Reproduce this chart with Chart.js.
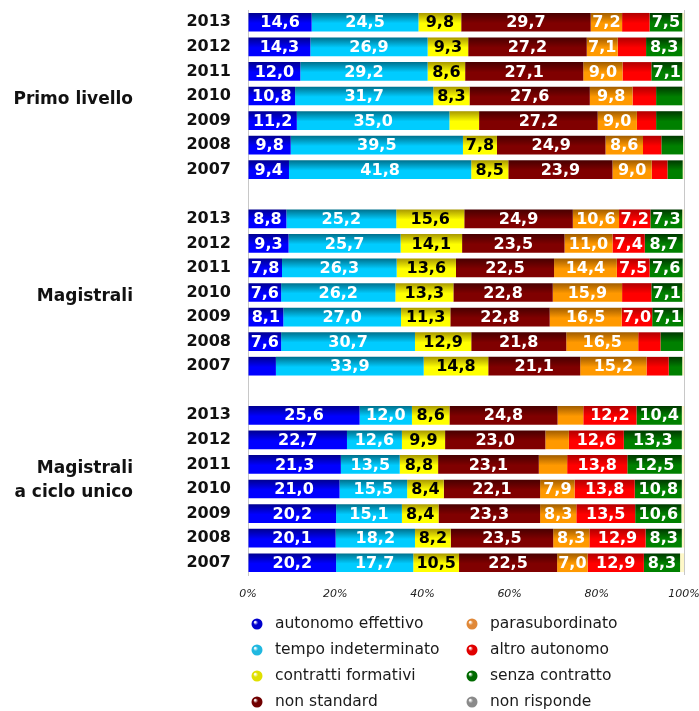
<!DOCTYPE html>
<html>
<head>
<meta charset="utf-8">
<script src="https://cdn.jsdelivr.net/npm/chart.js@4.4.1/dist/chart.umd.min.js"></script>
<style>
body { margin: 0; background: #fff; }
</style>
</head>
<body>
<canvas id="chart" width="699" height="711"></canvas>
<script>
const years = ['2013', '2012', '2011', '2010', '2009', '2008', '2007'];
const groups = [['Primo livello'], ['Magistrali'], ['Magistrali', 'a ciclo unico']];
const xTicks = [0, 20, 40, 60, 80, 100];

// each series: Primo livello (7), Magistrali (7), Magistrali a ciclo unico (7), years 2013 -> 2007
const autonomoEffettivo = [14.6, 14.3, 12.0, 10.8, 11.2, 9.8, 9.4,
  8.8, 9.3, 7.8, 7.6, 8.1, 7.6, 6.4,
  25.6, 22.7, 21.3, 21.0, 20.2, 20.1, 20.2];
const tempoIndeterminato = [24.5, 26.9, 29.2, 31.7, 35.0, 39.5, 41.8,
  25.2, 25.7, 26.3, 26.2, 27.0, 30.7, 33.9,
  12.0, 12.6, 13.5, 15.5, 15.1, 18.2, 17.7];
const contrattiFormativi = [9.8, 9.3, 8.6, 8.3, 6.8, 7.8, 8.5,
  15.6, 14.1, 13.6, 13.3, 11.3, 12.9, 14.8,
  8.6, 9.9, 8.8, 8.4, 8.4, 8.2, 10.5];
const nonStandard = [29.7, 27.2, 27.1, 27.6, 27.2, 24.9, 23.9,
  24.9, 23.5, 22.5, 22.8, 22.8, 21.8, 21.1,
  24.8, 23.0, 23.1, 22.1, 23.3, 23.5, 22.5];
const parasubordinato = [7.2, 7.1, 9.0, 9.8, 9.0, 8.6, 9.0,
  10.6, 11.0, 14.4, 15.9, 16.5, 16.5, 15.2,
  5.9, 5.4, 6.5, 7.9, 8.3, 8.3, 7.0];
const altroAutonomo = [6.3, 6.5, 6.6, 5.4, 4.4, 4.2, 3.6,
  7.2, 7.4, 7.5, 6.7, 7.0, 5.1, 5.1,
  12.2, 12.6, 13.8, 13.8, 13.5, 12.9, 12.9];
const senzaContratto = [7.5, 8.3, 7.1, 6.0, 6.0, 5.0, 3.5,
  7.3, 8.7, 7.6, 7.1, 7.1, 5.2, 3.1,
  10.4, 13.3, 12.5, 10.8, 10.6, 8.3, 8.3];
const nonRisponde = [0.4, 0.4, 0.4, 0.4, 0.4, 0.2, 0.3,
  0.4, 0.3, 0.3, 0.4, 0.2, 0.2, 0.4,
  0.5, 0.5, 0.5, 0.5, 0.6, 0.5, 0.9];

// one empty row between groups
const labels = [];
groups.forEach((g, i) => {
  if (i > 0) labels.push('');
  years.forEach(y => labels.push(y));
});
function withGaps(arr) {
  const out = [];
  groups.forEach((g, i) => {
    if (i > 0) out.push(null);
    out.push(...arr.slice(i * 7, i * 7 + 7));
  });
  return out;
}

function barGradient(top, bottom) {
  return ctx => {
    const chart = ctx.chart;
    if (!chart.chartArea || ctx.type !== 'data') return bottom;
    const ys = chart.scales.y;
    const y = ys.getPixelForValue(ctx.dataIndex);
    const h = ys.height / labels.length * 0.76;
    const g = chart.ctx.createLinearGradient(0, y - h / 2, 0, y + h / 2);
    g.addColorStop(0, top);
    g.addColorStop(0.55, bottom);
    g.addColorStop(1, bottom);
    return g;
  };
}

function series(label, data, top, bottom, dot, labelColor) {
  return {
    label: label,
    data: withGaps(data),
    backgroundColor: top ? barGradient(top, bottom) : bottom,
    borderWidth: 0,
    barPercentage: 0.76,
    categoryPercentage: 1,
    dotColor: dot,
    labelColor: labelColor
  };
}

const fmt = v => v.toFixed(1).replace('.', ',');

const valueLabels = {
  id: 'valueLabels',
  afterDatasetsDraw(chart) {
    const c = chart.ctx;
    c.save();
    c.font = 'bold 16px "DejaVu Sans"';
    c.textAlign = 'center';
    c.textBaseline = 'middle';
    chart.data.datasets.forEach((ds, i) => {
      if (!ds.labelColor) return;
      chart.getDatasetMeta(i).data.forEach((el, j) => {
        const v = ds.data[j];
        if (v == null || v < 7) return;
        const p = el.getProps(['x', 'y', 'base'], true);
        c.fillStyle = ds.labelColor;
        c.fillText(fmt(v), (p.x + p.base) / 2, p.y + 1);
      });
    });
    c.restore();
  }
};

const groupLabels = {
  id: 'groupLabels',
  afterDraw(chart) {
    const c = chart.ctx;
    const ys = chart.scales.y;
    c.save();
    c.font = 'bold 17px "DejaVu Sans"';
    c.fillStyle = '#111';
    c.textAlign = 'right';
    c.textBaseline = 'middle';
    groups.forEach((lines, gi) => {
      const mid = ys.getPixelForValue(gi * 8 + 3);
      lines.forEach((t, li) => {
        c.fillText(t, 133, mid + 4 - (lines.length - 1 - li) * 24);
      });
    });
    c.restore();
  }
};

const dotLegend = {
  id: 'dotLegend',
  afterDraw(chart) {
    const c = chart.ctx;
    c.save();
    c.font = '15.5px "DejaVu Sans"';
    c.textBaseline = 'middle';
    c.textAlign = 'left';
    chart.data.datasets.forEach((ds, i) => {
      const col = Math.floor(i / 4), row = i % 4;
      const x = col === 0 ? 257 : 472;
      const y = 624 + row * 26;
      const g = c.createRadialGradient(x - 2, y - 2, 0.5, x, y, 6);
      g.addColorStop(0, '#ffffff');
      g.addColorStop(0.35, ds.dotColor);
      g.addColorStop(1, ds.dotColor);
      c.fillStyle = g;
      c.beginPath();
      c.arc(x, y, 5.5, 0, Math.PI * 2);
      c.fill();
      c.fillStyle = '#1a1a1a';
      c.fillText(ds.label, x + 18, y);
    });
    c.restore();
  }
};

new Chart(document.getElementById('chart'), {
  type: 'bar',
  data: {
    labels: labels,
    datasets: [
      series('autonomo effettivo', autonomoEffettivo, '#000090', '#0000ff', '#0000cc', '#fff'),
      series('tempo indeterminato', tempoIndeterminato, '#00708c', '#00ccff', '#20b8e0', '#fff'),
      series('contratti formativi', contrattiFormativi, '#a89800', '#ffff00', '#e0e000', '#000'),
      series('non standard', nonStandard, '#480000', '#800000', '#700000', '#fff'),
      series('parasubordinato', parasubordinato, '#a05c00', '#ff9900', '#e08838', '#fff'),
      series('altro autonomo', altroAutonomo, '#b00000', '#ff0000', '#e00000', '#fff'),
      series('senza contratto', senzaContratto, '#003800', '#008000', '#006a00', '#fff'),
      series('non risponde', nonRisponde, null, '#fff8c8', '#8a8a8a', null)
    ]
  },
  options: {
    indexAxis: 'y',
    responsive: false,
    animation: false,
    events: [],
    layout: { padding: { top: 10, right: 15, bottom: 108, left: 0 } },
    plugins: {
      legend: { display: false },
      tooltip: { enabled: false }
    },
    scales: {
      x: {
        stacked: true,
        min: 0,
        max: 100,
        afterFit: s => { s.height = 28; s.paddingLeft = 0; s.paddingRight = 0; },
        afterBuildTicks: s => { s.ticks = xTicks.map(v => ({ value: v })); },
        ticks: {
          padding: 13,
          color: '#222',
          font: { family: '"DejaVu Sans"', size: 11, style: 'italic' },
          callback: v => v + '%'
        },
        grid: {
          drawTicks: false,
          color: ctx => (ctx.tick && (ctx.tick.value === 0 || ctx.tick.value === 100)) ? '#c8c8c8' : 'transparent'
        },
        border: { display: false }
      },
      y: {
        stacked: true,
        afterFit: s => { s.width = 248; s.paddingTop = 0; s.paddingBottom = 0; },
        ticks: {
          autoSkip: false,
          padding: 17,
          color: '#111',
          font: { family: '"DejaVu Sans"', size: 16, weight: 'bold' }
        },
        grid: { display: false, drawTicks: false },
        border: { color: '#c8c8c8' }
      }
    }
  },
  plugins: [valueLabels, groupLabels, dotLegend]
});
</script>
</body>
</html>
